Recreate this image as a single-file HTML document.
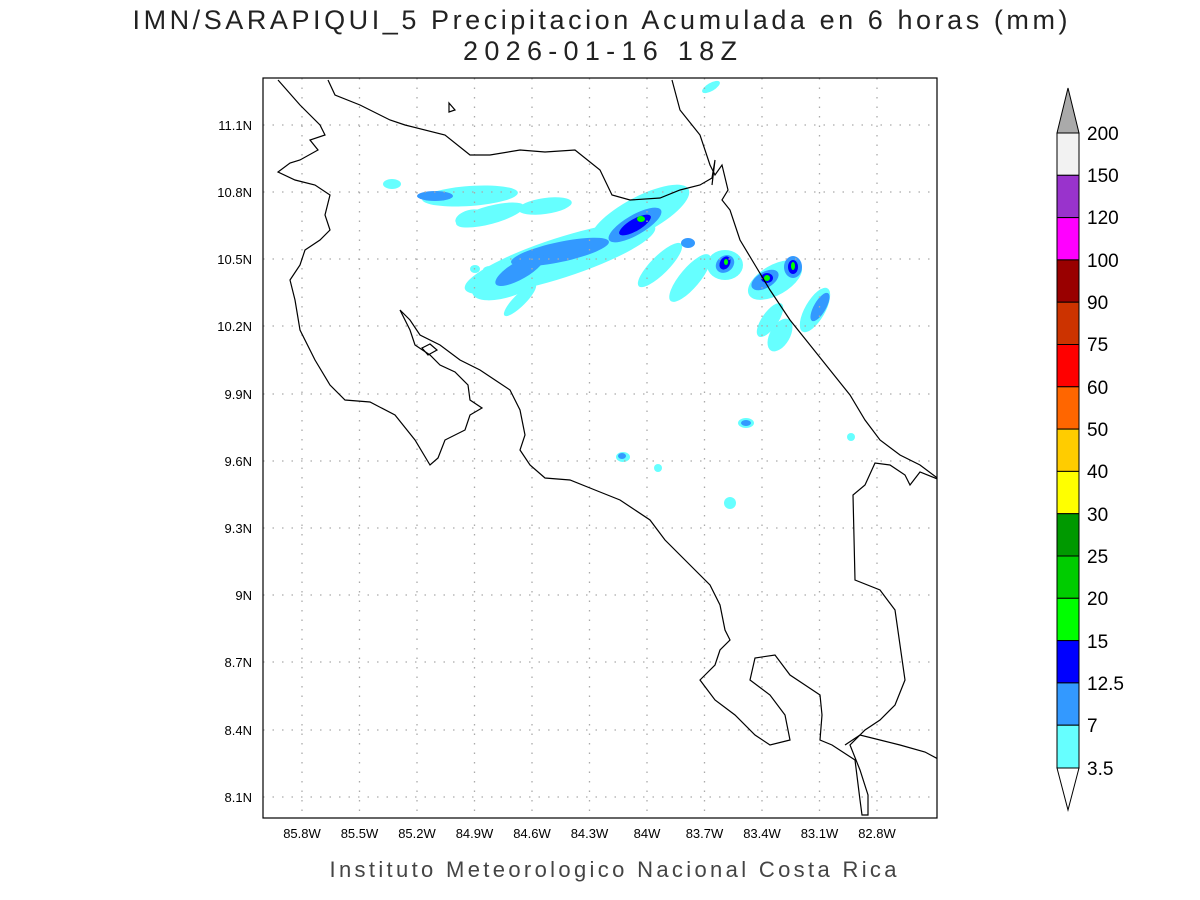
<!DOCTYPE html>
<html><head><meta charset="utf-8"><style>body{margin:0;background:#fff}svg{display:block}</style></head><body>
<svg width="1200" height="900" xmlns="http://www.w3.org/2000/svg" font-family="Liberation Sans, sans-serif">
<rect width="1200" height="900" fill="#fff"/>
<text x="600" y="29" font-size="27" text-anchor="middle" fill="#222" textLength="935">IMN/SARAPIQUI_5 Precipitacion Acumulada en 6 horas (mm)</text>
<text x="600" y="60" font-size="27" text-anchor="middle" fill="#222" textLength="274">2026-01-16 18Z</text>
<defs><clipPath id="c"><rect x="263" y="78" width="674" height="740"/></clipPath></defs>
<g clip-path="url(#c)">
<g fill="#66ffff">
<ellipse cx="392" cy="184" rx="9" ry="5"/>
<ellipse cx="470" cy="196" rx="48" ry="10" transform="rotate(-4 470 196)"/>
<ellipse cx="490" cy="215" rx="35" ry="9" transform="rotate(-15 490 215)"/>
<ellipse cx="470" cy="218" rx="15" ry="8" transform="rotate(-15 470 218)"/>
<ellipse cx="545" cy="206" rx="27" ry="8" transform="rotate(-8 545 206)"/>
<ellipse cx="640" cy="215" rx="55" ry="18" transform="rotate(-28 640 215)"/>
<ellipse cx="665" cy="200" rx="25" ry="8" transform="rotate(-30 665 200)"/>
<ellipse cx="560" cy="258" rx="100" ry="20" transform="rotate(-18 560 258)"/>
<ellipse cx="510" cy="280" rx="40" ry="16" transform="rotate(-20 510 280)"/>
<ellipse cx="520" cy="300" rx="22" ry="6" transform="rotate(-45 520 300)"/>
<ellipse cx="660" cy="265" rx="30" ry="9" transform="rotate(-45 660 265)"/>
<ellipse cx="690" cy="278" rx="30" ry="10" transform="rotate(-50 690 278)"/>
<ellipse cx="725" cy="265" rx="18" ry="15"/>
<ellipse cx="775" cy="280" rx="30" ry="15" transform="rotate(-30 775 280)"/>
<ellipse cx="815" cy="310" rx="10" ry="25" transform="rotate(30 815 310)"/>
<ellipse cx="770" cy="320" rx="8" ry="20" transform="rotate(35 770 320)"/>
<ellipse cx="780" cy="335" rx="10" ry="18" transform="rotate(30 780 335)"/>
<ellipse cx="623" cy="457" rx="7" ry="5"/>
<ellipse cx="746" cy="423" rx="8" ry="5"/>
<ellipse cx="730" cy="503" rx="6" ry="6"/>
<ellipse cx="658" cy="468" rx="4" ry="4"/>
<ellipse cx="851" cy="437" rx="4" ry="4"/>
<ellipse cx="711" cy="87" rx="10" ry="4" transform="rotate(-30 711 87)"/>
<ellipse cx="490" cy="270" rx="7" ry="4"/>
<ellipse cx="475" cy="269" rx="5" ry="4"/>
</g>
<g fill="#3399ff">
<ellipse cx="435" cy="196" rx="18" ry="5"/>
<ellipse cx="560" cy="252" rx="50" ry="10" transform="rotate(-12 560 252)"/>
<ellipse cx="520" cy="270" rx="28" ry="9" transform="rotate(-30 520 270)"/>
<ellipse cx="635" cy="225" rx="30" ry="10" transform="rotate(-30 635 225)"/>
<ellipse cx="688" cy="243" rx="7" ry="5"/>
<ellipse cx="725" cy="264" rx="10" ry="8" transform="rotate(-40 725 264)"/>
<ellipse cx="765" cy="280" rx="15" ry="8" transform="rotate(-30 765 280)"/>
<ellipse cx="793" cy="267" rx="9" ry="11"/>
<ellipse cx="820" cy="307" rx="6" ry="16" transform="rotate(30 820 307)"/>
<ellipse cx="746" cy="423" rx="5" ry="3"/>
<ellipse cx="622" cy="456" rx="4" ry="3"/>
</g>
<g fill="#0000ff">
<ellipse cx="635" cy="225" rx="18" ry="6" transform="rotate(-30 635 225)"/>
<ellipse cx="725" cy="263" rx="5" ry="7" transform="rotate(30 725 263)"/>
<ellipse cx="767" cy="278" rx="6" ry="5"/>
<ellipse cx="793" cy="267" rx="5" ry="7"/>
</g>
<g fill="#00ff00">
<ellipse cx="641" cy="219" rx="4" ry="3"/>
<ellipse cx="726" cy="262" rx="2" ry="3"/>
<ellipse cx="767" cy="278" rx="3" ry="3"/>
<ellipse cx="793" cy="266" rx="2" ry="4"/>
</g>
<g stroke="#aaa" stroke-width="1.3" stroke-dasharray="1.5,8">
<line x1="302" y1="78" x2="302" y2="818"/><line x1="359.5" y1="78" x2="359.5" y2="818"/><line x1="417" y1="78" x2="417" y2="818"/><line x1="474.5" y1="78" x2="474.5" y2="818"/><line x1="532" y1="78" x2="532" y2="818"/><line x1="589.5" y1="78" x2="589.5" y2="818"/><line x1="647" y1="78" x2="647" y2="818"/><line x1="704.5" y1="78" x2="704.5" y2="818"/><line x1="762" y1="78" x2="762" y2="818"/><line x1="819.5" y1="78" x2="819.5" y2="818"/><line x1="877" y1="78" x2="877" y2="818"/>
<line x1="263" y1="125" x2="937" y2="125"/><line x1="263" y1="192" x2="937" y2="192"/><line x1="263" y1="259" x2="937" y2="259"/><line x1="263" y1="326" x2="937" y2="326"/><line x1="263" y1="394" x2="937" y2="394"/><line x1="263" y1="461" x2="937" y2="461"/><line x1="263" y1="528" x2="937" y2="528"/><line x1="263" y1="595" x2="937" y2="595"/><line x1="263" y1="662" x2="937" y2="662"/><line x1="263" y1="730" x2="937" y2="730"/><line x1="263" y1="797" x2="937" y2="797"/>
</g>
<g fill="none" stroke="#000" stroke-width="1.2">
<polyline points="278,80 300,105 320,125 325,135 310,140 318,150 300,160 290,163 278,172 295,180 315,185 330,195 325,215 330,230 320,240 305,250 300,265 290,280 295,300 300,330 315,360 330,385 345,400 370,402 395,415 415,440 430,465 438,458 445,440 465,430 470,415 482,408 470,400 468,385 455,372 440,365 430,355 415,345 410,330 400,310 410,320 420,335 440,345 460,360 480,370 495,380 510,390 520,410 525,435 520,450 530,465 545,478 570,480 595,490 620,500 650,520 665,540 690,565 710,585 720,605 725,630 730,640 720,650 715,665 700,680 715,700 735,715 755,735 770,745 790,740 785,715 770,695 750,680 755,658 775,655 790,675 805,685 820,695 822,715 820,740 832,745 855,760 860,800 862,815 868,815 868,795 860,770 850,745 865,730 880,720 895,705 905,680 895,610 880,590 855,580 853,495 865,485 875,463 890,465 905,475 910,485 920,472 940,480"/>
<polyline points="328,80 335,95 360,105 390,120 405,125 445,135 470,155 490,155 520,150 545,152 575,150 600,170 612,195 630,200 660,198 680,190 700,185 712,178 715,160 712,185"/>
<polyline points="672,80 680,110 700,135 710,165 715,175 722,165 728,190 722,200 730,210 740,240 755,265 770,290 790,320 810,345 830,370 850,395 865,420 880,440 900,455 920,465 940,480"/>
<polyline points="845,745 860,735 880,740 900,745 925,752 940,760"/>
<polygon points="422,348 430,344 437,350 428,355"/>
<polygon points="449,103 455,110 449,112"/>
</g>
</g>
<rect x="263" y="78" width="674" height="740" fill="none" stroke="#000" stroke-width="1.2"/>
<g font-size="13" fill="#000" text-anchor="end">
<text x="252" y="130">11.1N</text><text x="252" y="197">10.8N</text><text x="252" y="264">10.5N</text><text x="252" y="331">10.2N</text><text x="252" y="399">9.9N</text><text x="252" y="466">9.6N</text><text x="252" y="533">9.3N</text><text x="252" y="600">9N</text><text x="252" y="667">8.7N</text><text x="252" y="735">8.4N</text><text x="252" y="802">8.1N</text>
</g>
<g font-size="13" fill="#000" text-anchor="middle">
<text x="302" y="838">85.8W</text><text x="359.5" y="838">85.5W</text><text x="417" y="838">85.2W</text><text x="474.5" y="838">84.9W</text><text x="532" y="838">84.6W</text><text x="589.5" y="838">84.3W</text><text x="647" y="838">84W</text><text x="704.5" y="838">83.7W</text><text x="762" y="838">83.4W</text><text x="819.5" y="838">83.1W</text><text x="877" y="838">82.8W</text>
</g>
<text x="613" y="877" font-size="22" text-anchor="middle" fill="#444" textLength="567">Instituto Meteorologico Nacional Costa Rica</text>
<g stroke="#000" stroke-width="1">
<polygon points="1057,133 1068,88 1079,133" fill="#aaaaaa"/>
<rect x="1057" y="133" width="22" height="42.3" fill="#f2f2f2"/>
<rect x="1057" y="175.3" width="22" height="42.3" fill="#9933cc"/>
<rect x="1057" y="217.6" width="22" height="42.3" fill="#ff00ff"/>
<rect x="1057" y="259.9" width="22" height="42.3" fill="#990000"/>
<rect x="1057" y="302.2" width="22" height="42.3" fill="#cc3300"/>
<rect x="1057" y="344.5" width="22" height="42.3" fill="#ff0000"/>
<rect x="1057" y="386.8" width="22" height="42.3" fill="#ff6600"/>
<rect x="1057" y="429.1" width="22" height="42.3" fill="#ffcc00"/>
<rect x="1057" y="471.4" width="22" height="42.3" fill="#ffff00"/>
<rect x="1057" y="513.7" width="22" height="42.3" fill="#009900"/>
<rect x="1057" y="556" width="22" height="42.3" fill="#00cc00"/>
<rect x="1057" y="598.3" width="22" height="42.3" fill="#00ff00"/>
<rect x="1057" y="640.6" width="22" height="42.3" fill="#0000ff"/>
<rect x="1057" y="682.9" width="22" height="42.3" fill="#3399ff"/>
<rect x="1057" y="725.2" width="22" height="42.8" fill="#66ffff"/>
<polygon points="1057,768 1068,810 1079,768" fill="#fff"/>
</g>
<g font-size="19" fill="#000">
<text x="1087" y="140">200</text><text x="1087" y="182">150</text><text x="1087" y="224">120</text><text x="1087" y="267">100</text><text x="1087" y="309">90</text><text x="1087" y="351">75</text><text x="1087" y="394">60</text><text x="1087" y="436">50</text><text x="1087" y="478">40</text><text x="1087" y="521">30</text><text x="1087" y="563">25</text><text x="1087" y="605">20</text><text x="1087" y="648">15</text><text x="1087" y="690">12.5</text><text x="1087" y="732">7</text><text x="1087" y="775">3.5</text>
</g>
</svg>
</body></html>
